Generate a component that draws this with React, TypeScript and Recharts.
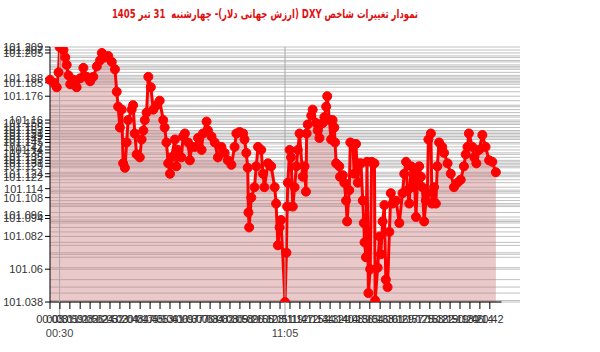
import { ComposedChart, Area, XAxis, YAxis, CartesianGrid, ReferenceLine } from 'recharts';

// minutes since midnight for each quote
const minuteOfDay = [
  3, 13, 22, 27, 30, 41, 46, 50, 55, 60,
  69, 78, 88, 97, 106, 116, 125, 135, 144, 149,
  158, 167, 177, 186, 191, 195, 200, 205, 209, 214,
  219, 223, 233, 237, 242, 247, 256, 261, 266, 270,
  275, 280, 287, 294, 303, 312, 322, 326, 331, 336,
  341, 345, 355, 359, 364, 373, 378, 383, 392, 397,
  402, 411, 420, 430, 434, 444, 448, 458, 467, 476,
  486, 495, 504, 514, 523, 528, 537, 547, 551, 556,
  560, 562, 564, 570, 579, 584, 589, 598, 603, 607,
  617, 626, 636, 640, 645, 650, 654, 665, 669, 671,
  673, 678, 682, 687, 692, 697, 701, 706, 715, 720,
  724, 726, 729, 739, 743, 753, 757, 762, 771, 776,
  781, 784, 790, 795, 799, 804, 806, 809, 818, 820,
  828, 832, 837, 840, 846, 849, 856, 860, 865, 870,
  874, 879, 884, 887, 889, 893, 896, 900, 905, 909,
  917, 919, 926, 931, 935, 940, 945, 949, 954, 959,
  963, 968, 978, 987, 996, 1001, 1006, 1010, 1015, 1020,
  1024, 1029, 1034, 1038, 1043, 1048, 1052, 1057, 1062, 1066,
  1069, 1076, 1079, 1085, 1090, 1094, 1099, 1108, 1113, 1123,
  1132, 1141, 1151, 1160, 1169, 1174, 1179, 1183, 1193, 1198,
  1204, 1212, 1221, 1230, 1240, 1249, 1259,
];

const dxy = [
  101.187, 101.185, 101.182, 101.192, 101.209, 101.207, 101.202, 101.197, 101.19, 101.184,
  101.187, 101.182, 101.188, 101.195, 101.189, 101.186, 101.189, 101.196, 101.2, 101.205,
  101.202, 101.203, 101.199, 101.194, 101.179, 101.169, 101.155, 101.167, 101.131, 101.128,
  101.145, 101.16, 101.167, 101.17, 101.151, 101.137, 101.135, 101.147, 101.153, 101.16,
  101.165, 101.189, 101.182, 101.167, 101.17, 101.173, 101.16, 101.155, 101.145, 101.131,
  101.124, 101.135, 101.147, 101.129, 101.14, 101.135, 101.149, 101.151, 101.145, 101.133,
  101.142, 101.142, 101.148, 101.14, 101.151, 101.159, 101.153, 101.149, 101.145, 101.135,
  101.142, 101.138, 101.133, 101.13, 101.142, 101.151, 101.152, 101.151, 101.147, 101.138,
  101.128, 101.098, 101.088, 101.108, 101.115, 101.129, 101.142, 101.14, 101.124, 101.115,
  101.131, 101.129, 101.115, 101.104, 101.076, 101.088, 101.093, 101.038, 101.071, 101.102,
  101.118, 101.14, 101.135, 101.102, 101.115, 101.129, 101.14, 101.151, 101.122, 101.129,
  101.112, 101.151, 101.157, 101.163, 101.167, 101.158, 101.153, 101.148, 101.158, 101.162,
  101.169, 101.176, 101.16, 101.147, 101.16, 101.155, 101.145, 101.131, 101.129, 101.122,
  101.123, 101.118, 101.106, 101.092, 101.113, 101.145, 101.144, 101.124, 101.144, 101.118,
  101.131, 101.131, 101.106, 101.091, 101.078, 101.068, 101.132, 101.044, 101.06, 101.132,
  101.131, 101.039, 101.061, 101.082, 101.07, 101.092, 101.103, 101.053, 101.048, 101.085,
  101.111, 101.104, 101.106, 101.091, 101.111, 101.124, 101.132, 101.113, 101.104, 101.129,
  101.115, 101.124, 101.095, 101.12, 101.129, 101.122, 101.115, 101.092, 101.106, 101.111,
  101.147, 101.151, 101.104, 101.115, 101.104, 101.129, 101.145, 101.142, 101.138, 101.131,
  101.124, 101.115, 101.118, 101.12, 101.129, 101.137, 101.142, 101.151, 101.142, 101.135,
  101.131, 101.14, 101.15, 101.142, 101.133, 101.132, 101.125,
];

const yTicks = [
  101.209, 101.207, 101.205, 101.188, 101.185, 101.176,
  101.16, 101.158, 101.155, 101.153, 101.151, 101.149, 101.147, 101.145, 101.142, 101.14,
  101.138, 101.135, 101.133, 101.131, 101.129, 101.124, 101.122,
  101.114, 101.108, 101.096, 101.094, 101.082, 101.06, 101.038,
];

const xTickLabels = [
  '00:03', '00:31', '00:59', '01:28', '01:56', '02:24', '02:52', '03:20', '03:48', '04:17',
  '04:45', '05:13', '05:41', '06:09', '06:37', '07:06', '07:34', '08:02', '08:30', '08:58',
  '09:26', '09:55', '10:23', '10:51', '11:19', '11:47', '12:15', '12:44', '13:12', '13:40',
  '14:08', '14:36', '15:04', '15:33', '16:01', '16:29', '16:57', '17:25', '17:53', '18:22',
  '18:50', '19:18', '19:46', '20:14', '20:42',
];

// time of the day's high and low
const markTimes = ['00:30', '11:05'];

const title = 'نمودار تغییرات شاخص DXY (ارزش جهانی دلار)- چهارشنبه  31 تیر 1405';

const toMin = (t: string) => {
  const [h, m] = t.split(':').map(Number);
  return h * 60 + m;
};
const toLabel = (m: number) => {
  const h = Math.floor(m / 60);
  const mm = m % 60;
  return `${String(h).padStart(2, '0')}:${String(mm).padStart(2, '0')}`;
};

const data = minuteOfDay.map((t, i) => ({ t, v: dxy[i] }));
const gridValues = Array.from(new Set(dxy));
const xTicks = xTickLabels.map(toMin);

const font = '"Liberation Sans", Arial, sans-serif';

const XTick = (props: any) => {
  const { x, y, payload } = props;
  return (
    <text x={x} y={y} dy={9} textAnchor="middle" fontSize={11} fontFamily={font} fill="#333">
      {toLabel(payload.value)}
    </text>
  );
};

const markShape = (label: string) => (props: any) => {
  const { x1, y1, x2, y2 } = props;
  const yb = Math.max(y1, y2);
  return (
    <g>
      <line x1={x1} y1={Math.min(y1, y2)} x2={x2} y2={yb + 18} stroke="#a8a8a8" strokeWidth={1} />
      <text x={x1} y={yb + 35} textAnchor="middle" fontSize={11} fontFamily={font} fill="#444">
        {label}
      </text>
    </g>
  );
};

export default function App() {
  return (
    <div style={{ position: 'absolute', left: 0, top: 0, width: 600, height: 352, background: '#fff' }}>
      <div
        dir="rtl"
        style={{
          position: 'absolute', left: 0, top: 7, width: 530, textAlign: 'center',
          color: '#e01010', fontWeight: 'bold', fontSize: 12, fontFamily: '"DejaVu Sans", sans-serif',
          transform: 'scaleX(0.71)', transformOrigin: '265px 50%', whiteSpace: 'pre',
        }}
      >
        {title}
      </div>
      <ComposedChart width={600} height={352} data={data} margin={{ top: 47, right: 80, bottom: 0, left: 0 }}>
        <CartesianGrid vertical={false} horizontalValues={gridValues} stroke="#c0c0c0" />
        <XAxis
          dataKey="t"
          type="number"
          domain={[3, 1327]}
          ticks={xTicks}
          interval={0}
          height={50}
          tickSize={7}
          tickMargin={5}
          axisLine={false}
          tickLine={{ stroke: '#000' }}
          tick={<XTick />}
        />
        <YAxis
          type="number"
          domain={[101.038, 101.209]}
          ticks={yTicks}
          interval={0}
          width={50}
          tickSize={5}
          axisLine={{ stroke: '#000' }}
          tickLine={{ stroke: '#000' }}
          tick={{ fontSize: 11, fill: '#333', fontFamily: font }}
          allowDataOverflow
        />
        <ReferenceLine
          segment={[{ x: 3, y: 101.038 }, { x: 1275, y: 101.038 }]}
          stroke="#000"
          ifOverflow="visible"
        />
        <Area
          type="linear"
          dataKey="v"
          baseValue="dataMin"
          stroke="#ff0000"
          strokeWidth={3}
          fill="#c87878"
          fillOpacity={0.4}
          dot={{ r: 4.5, fill: '#ff0000', fillOpacity: 1, stroke: '#ff0000', strokeWidth: 1 }}
          activeDot={false}
          isAnimationActive={false}
        />
        {markTimes.map((m) => (
          <ReferenceLine key={m} x={toMin(m)} ifOverflow="visible" shape={markShape(m)} />
        ))}
      </ComposedChart>
    </div>
  );
}
